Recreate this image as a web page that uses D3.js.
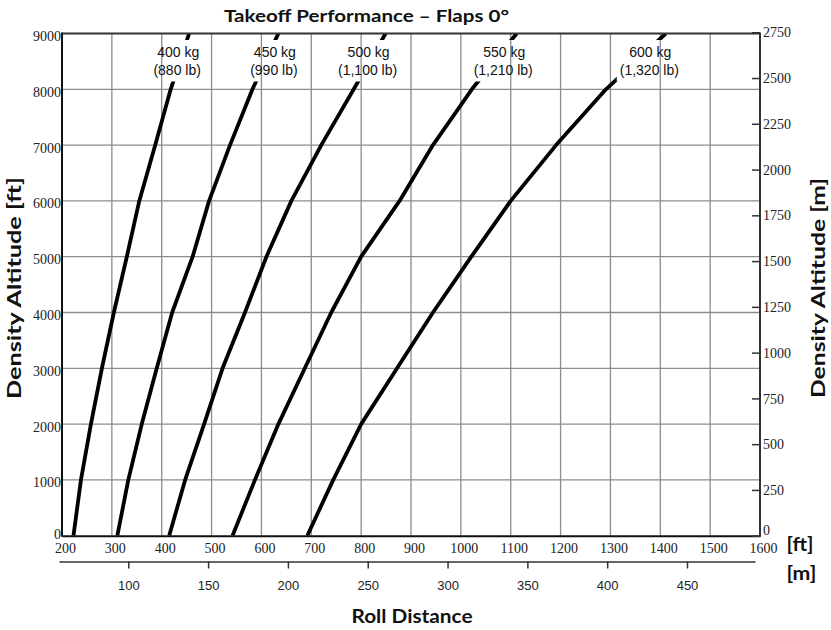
<!DOCTYPE html>
<html><head><meta charset="utf-8">
<script src="https://cdn.jsdelivr.net/npm/d3@7"></script>
<style>
body{margin:0;background:#fff} svg{display:block}
.serif{font-family:"Liberation Serif","Times New Roman",Times,serif !important;}
.sans{font-family:"Liberation Sans",Arial,Helvetica !important;}
.bold{font-family:Lato,"Open Sans" !important;font-weight:bold;}
</style>
</head><body><svg id="c" width="831" height="630"></svg>
<script>
// ---- data ----
const altitudeFt = [0, 1000, 2000, 3000, 4000, 5000, 6000, 7000, 8000, 9000];
const roll400 = [223, 238, 258, 280, 304, 330, 355, 387, 418, 455];
const roll450 = [311, 333, 360, 390, 421, 462, 495, 537, 582, 634];
const roll500 = [415, 447, 485, 522, 567, 610, 660, 720, 785, 849];
const roll550 = [542, 587, 634, 687, 740, 800, 877, 944, 1022, 1112];
const roll600 = [692, 744, 800, 872, 944, 1021, 1100, 1191, 1291, 1411];
const weightKg = ["400 kg", "450 kg", "500 kg", "550 kg", "600 kg"];
const weightLb = ["(880 lb)", "(990 lb)", "(1,100 lb)", "(1,210 lb)", "(1,320 lb)"];
const labelAnchorFt = [433, 627, 815, 1087, 1380];
const rollFtTicks = [200, 300, 400, 500, 600, 700, 800, 900, 1000, 1100, 1200, 1300, 1400, 1500, 1600];
const rollMTicks = [100, 150, 200, 250, 300, 350, 400, 450];
const altFtTicks = [0, 1000, 2000, 3000, 4000, 5000, 6000, 7000, 8000, 9000];
const altMTicks = [0, 250, 500, 750, 1000, 1250, 1500, 1750, 2000, 2250, 2500, 2750];
const series = [roll400, roll450, roll500, roll550, roll600];

// ---- scales ----
const svg = d3.select("#c");
const x = d3.scaleLinear().domain([200, 1600]).range([62, 760]);
const y = d3.scaleLinear().domain([0, 9000]).range([535.7, 33.5]);
const yM = d3.scaleLinear().domain([0, 9000 * 0.3048]).range([535.7, 33.5]);
const xM = d3.scaleLinear().domain([56.6, 492.6]).range([59, 755]);

// ---- grid ----
const grid = svg.append("g");
grid.selectAll("line.v").data(rollFtTicks.slice(1, -1)).join("line")
  .attr("x1", d => x(d)).attr("x2", d => x(d)).attr("y1", y(9000)).attr("y2", y(0))
  .attr("stroke", "#8c8c8c").attr("stroke-width", 1.3);
grid.selectAll("line.h").data(altFtTicks.slice(1, -1)).join("line")
  .attr("x1", x(200)).attr("x2", x(1600)).attr("y1", d => y(d)).attr("y2", d => y(d))
  .attr("stroke", "#8c8c8c").attr("stroke-width", 1.3);

// ---- labels (measured first, raised later) ----
const labels = svg.append("g");
const labelBoxes = [];
weightKg.forEach((k, i) => {
  const g = labels.append("g");
  const cx = x(labelAnchorFt[i]);
  g.append("text").attr("class", "sans").attr("x", cx).attr("y", 57).attr("text-anchor", "middle")
    .attr("font-size", 14).attr("fill", "#111").text(k);
  g.append("text").attr("class", "sans").attr("x", cx - 1).attr("y", 75).attr("text-anchor", "middle")
    .attr("font-size", 14).attr("fill", "#111").text(weightLb[i]);
  const b = g.node().getBBox();
  labelBoxes.push({x: b.x - 3, y: 40, w: b.width + 6, h: 41.5});
});

// ---- mask for curves (break around labels) ----
const defs = svg.append("defs");
const mask = defs.append("mask").attr("id", "m").attr("maskUnits", "userSpaceOnUse")
  .attr("x", 0).attr("y", 0).attr("width", 831).attr("height", 630);
mask.append("rect").attr("x", 0).attr("y", 0).attr("width", 831).attr("height", 630).attr("fill", "#fff");
mask.selectAll("rect.l").data(labelBoxes).join("rect")
  .attr("x", d => d.x).attr("y", d => d.y).attr("width", d => d.w).attr("height", d => d.h).attr("fill", "#000");
defs.append("clipPath").attr("id", "cp").append("rect")
  .attr("x", x(200)).attr("y", y(9000)).attr("width", x(1600) - x(200)).attr("height", y(0) - y(9000));

// ---- curves ----
const line = d3.line().x(d => x(d[0])).y(d => y(d[1]));
svg.append("g").attr("mask", "url(#m)").attr("clip-path", "url(#cp)")
  .selectAll("path").data(series).join("path")
  .attr("d", s => line(s.map((v, j) => [v, altitudeFt[j]])))
  .attr("fill", "none").attr("stroke", "#000").attr("stroke-width", 3.8).attr("stroke-linejoin", "round");

labels.raise();

// ---- frame ----
svg.append("line").attr("x1", x(200)).attr("x2", x(1600)).attr("y1", y(9000)).attr("y2", y(9000)).attr("stroke", "#333").attr("stroke-width", 2);
svg.append("line").attr("x1", x(200)).attr("x2", x(200)).attr("y1", y(9000) - 1).attr("y2", y(0) + 1).attr("stroke", "#111").attr("stroke-width", 2);

// left axis (ft)
const axL = svg.append("g").attr("transform", `translate(${x(200)},0)`)
  .call(d3.axisLeft(y).tickValues(altFtTicks).tickSize(0).tickPadding(1).tickFormat(d3.format("d")));
axL.select(".domain").remove();
axL.selectAll("text").attr("class", "serif").attr("font-size", 14).attr("fill", "#222").attr("dy", "0.5em");
axL.selectAll(".tick").filter(d => d === 0).select("text").attr("dy", "0.2em");

// bottom axis (ft)
const axB = svg.append("g").attr("transform", `translate(0,${y(0)})`)
  .call(d3.axisBottom(x).tickValues(rollFtTicks).tickSize(0).tickPadding(7).tickFormat(d3.format("d")));
axB.select(".domain").attr("stroke", "#111").attr("stroke-width", 2);
axB.selectAll("text").attr("class", "serif").attr("font-size", 14).attr("fill", "#222").attr("dx", 3);

// right axis (m)
const axR = svg.append("g").attr("transform", `translate(${x(1600)},0)`)
  .call(d3.axisRight(yM).tickValues(altMTicks).tickSizeInner(-8).tickSizeOuter(0).tickPadding(11).tickFormat(d3.format("d")));
axR.select(".domain").attr("d", `M0,${y(9000) - 1}V${y(0) + 1}`).attr("stroke", "#333").attr("stroke-width", 2);
axR.selectAll("line").attr("stroke", "#333").attr("stroke-width", 1.5);
axR.selectAll("text").attr("class", "serif").attr("font-size", 14).attr("fill", "#222").attr("dy", "0.33em")
  .attr("dx", -8);
axR.selectAll(".tick").filter(d => d === 0).select("text").attr("dy", "-0.1em");

// bottom axis (m)
const axM = svg.append("g").attr("transform", "translate(0,561.5)")
  .call(d3.axisBottom(xM).tickValues(rollMTicks).tickSizeInner(7).tickSizeOuter(0).tickPadding(12));
axM.select(".domain").attr("stroke", "#333").attr("stroke-width", 1.5);
axM.selectAll("line").attr("stroke", "#333").attr("stroke-width", 1.5);
axM.selectAll("text").attr("class", "sans").attr("font-size", 13).attr("fill", "#222");

// ---- titles ----
function title(t, size, len) {
  return svg.append("text").attr("class", "bold").attr("font-size", size).attr("fill", "#111")
    .attr("textLength", len).attr("lengthAdjust", "spacingAndGlyphs").text(t);
}
title("Takeoff Performance – Flaps 0°", 17.5, 285).attr("x", 366.5 - 142.5).attr("y", 21.7);
title("Density Altitude [ft]", 19, 222).attr("transform", "translate(20.5,399) rotate(-90)");
title("Density Altitude [m]", 19, 220).attr("transform", "translate(825,398) rotate(-90)");
title("Roll Distance", 18, 121).attr("x", 351.5).attr("y", 623);
title("[ft]", 19, 27).attr("x", 786.5).attr("y", 551);
title("[m]", 19, 30).attr("x", 786.5).attr("y", 580);
</script></body></html>
